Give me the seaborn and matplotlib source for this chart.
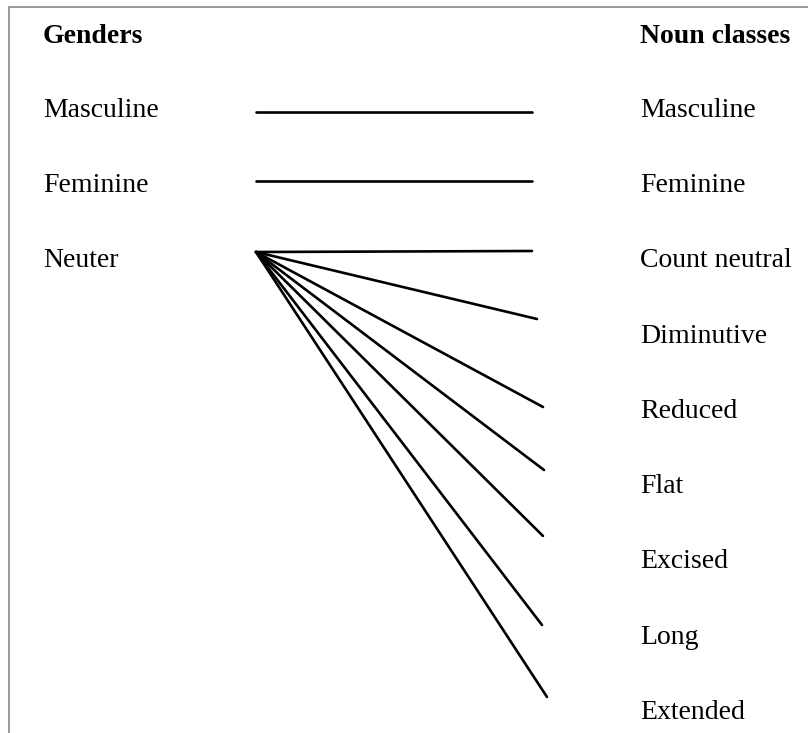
import pandas as pd
import seaborn as sns
import matplotlib.pyplot as plt

# gender -> noun class mapping
genders = ["Masculine", "Feminine", "Neuter"]
noun_classes = ["Masculine", "Feminine", "Count neutral", "Diminutive", "Reduced",
                "Flat", "Excised", "Long", "Extended"]
class_gender = ["Masculine", "Feminine", "Neuter", "Neuter", "Neuter",
                "Neuter", "Neuter", "Neuter", "Neuter"]

# layout (pixel space of the page)
label_rows = [117, 192, 267, 343, 418, 493, 568, 644, 719]
header_row = 43
gender_line_y = [112, 181, 252]
line_start_x = 256
line_end_x = [532, 532, 532, 537, 543, 544, 543, 542, 547]
line_end_y = [112, 181, 251, 319, 407, 470, 536, 625, 697]

rows = []
for i, cls in enumerate(noun_classes):
    g = genders.index(class_gender[i])
    rows.append({"link": i, "x": line_start_x, "y": gender_line_y[g]})
    rows.append({"link": i, "x": line_end_x[i], "y": line_end_y[i]})
df = pd.DataFrame(rows)

sns.set_style("white")
plt.rcParams['font.family'] = ['Liberation Serif', 'DejaVu Serif']

fig = plt.figure(figsize=(8.08, 7.33), dpi=100)
ax = fig.add_axes([9 / 808, 0, 799 / 808, 726 / 733])
ax.set_xlim(9, 808)
ax.set_ylim(733, 7)

sns.lineplot(data=df, x="x", y="y", units="link", estimator=None, sort=False,
             color="black", linewidth=1.9, ax=ax, legend=False)

fs = 20
ax.text(43, header_row, "Genders", fontsize=fs, fontweight="bold",
        va="baseline", color="black")
ax.text(640, header_row, "Noun classes", fontsize=fs, fontweight="bold",
        va="baseline", color="black")
for i, g in enumerate(genders):
    ax.text(43, label_rows[i], g, fontsize=fs, va="baseline", color="black")
for i, cls in enumerate(noun_classes):
    ax.text(640, label_rows[i], cls, fontsize=fs, va="baseline", color="black")

ax.set_xticks([])
ax.set_yticks([])
ax.set_xlabel("")
ax.set_ylabel("")
for side in ["right", "bottom"]:
    ax.spines[side].set_visible(False)
for side in ["top", "left"]:
    ax.spines[side].set_visible(True)
    ax.spines[side].set_color("#9a9a9a")
    ax.spines[side].set_linewidth(1.4)

fig.savefig("out.png", dpi=100)
